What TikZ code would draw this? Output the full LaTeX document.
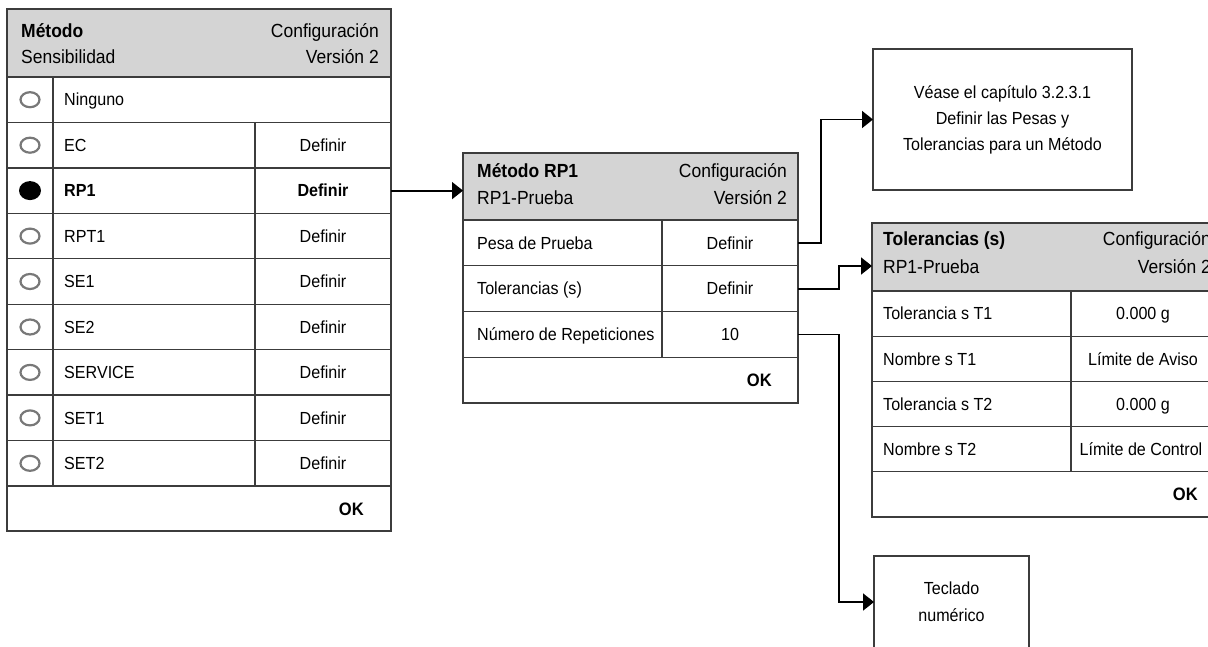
\documentclass[tikz,border=0pt]{standalone}
\usepackage{fontspec}
\setmainfont[FakeStretch=0.92]{Liberation Sans}
\usetikzlibrary{arrows.meta,shapes.geometric}
\definecolor{hdrgray}{RGB}{212,212,212}
\definecolor{linegray}{RGB}{60,60,60}
\definecolor{radiogray}{RGB}{120,120,120}
\tikzset{
	hdr/.style={draw=linegray,line width=1.3pt,fill=hdrgray,anchor=north west,
		inner sep=0pt,outer sep=0pt},
	rowbox/.style={draw=linegray,line width=1.3pt,anchor=west,
		inner sep=0pt,outer sep=0pt},
	inner/.style={draw=linegray,line width=1.2pt},
	cellt/.style={font=\fontsize{17.5}{20}\selectfont,inner sep=0pt,
		text height=12.5pt,text depth=0pt},
	celltb/.style={cellt,font=\bfseries\fontsize{17.5}{20}\selectfont},
	hdrt/.style={font=\fontsize{19}{22}\selectfont,inner sep=0pt},
	hdrtb/.style={hdrt,font=\bfseries\fontsize{19}{22}\selectfont},
	okt/.style={font=\bfseries\fontsize{18}{20}\selectfont,inner sep=0pt,
		text height=13pt,text depth=0pt,anchor=east},
	radio/.style={ellipse,draw=radiogray,line width=2.2pt,
		minimum width=19pt,minimum height=15pt,inner sep=0pt},
	radioon/.style={ellipse,fill=black,minimum width=22pt,minimum height=19pt,
		inner sep=0pt},
	infobox/.style={draw=linegray,line width=1.3pt,anchor=north west,
		align=center,inner sep=0pt,outer sep=0pt},
	conn/.style={draw=black,line width=1.8pt,
		-{Triangle[length=11pt,width=17pt]}}
}
\begin{document}
\begin{tikzpicture}[x=1pt,y=-1pt]
	\path[use as bounding box] (0,0) rectangle (1208,646);
	\clip (0,0) rectangle (1208,646);

	% Metodo / Sensibilidad
	\node[hdr,minimum width=384pt,minimum height=68pt] (hdrA) at (7,9) {};
	\node[hdrtb,anchor=base west] at (21,37) {Método};
	\node[hdrt,anchor=base west] at (21,63) {Sensibilidad};
	\node[hdrt,anchor=base east] at (379,37) {Configuración};
	\node[hdrt,anchor=base east] at (379,63) {Versión 2};
	\node[rowbox,minimum width=384pt,minimum height=45.44pt] (rA1) at (7,99.7) {};
	\node[rowbox,minimum width=384pt,minimum height=45.44pt] (rA2) at (7,145.2) {};
	\node[rowbox,minimum width=384pt,minimum height=45.44pt] (rA3) at (7,190.6) {};
	\node[rowbox,minimum width=384pt,minimum height=45.44pt] (rA4) at (7,236.1) {};
	\node[rowbox,minimum width=384pt,minimum height=45.44pt] (rA5) at (7,281.5) {};
	\node[rowbox,minimum width=384pt,minimum height=45.44pt] (rA6) at (7,327.0) {};
	\node[rowbox,minimum width=384pt,minimum height=45.44pt] (rA7) at (7,372.4) {};
	\node[rowbox,minimum width=384pt,minimum height=45.44pt] (rA8) at (7,417.9) {};
	\node[rowbox,minimum width=384pt,minimum height=45.44pt] (rA9) at (7,463.3) {};
	\node[rowbox,minimum width=384pt,minimum height=45pt] (okA) at (7,508.5) {};
	\draw[inner] (53,77) -- (53,486);
	\draw[inner] (255,122.4) -- (255,486);
	\node[radio] (radA1) at (30,99.7) {};
	\node[radio] (radA2) at (30,145.2) {};
	\node[radioon] (radA3) at (30,190.6) {};
	\node[radio] (radA4) at (30,236.1) {};
	\node[radio] (radA5) at (30,281.5) {};
	\node[radio] (radA6) at (30,327.0) {};
	\node[radio] (radA7) at (30,372.4) {};
	\node[radio] (radA8) at (30,417.9) {};
	\node[radio] (radA9) at (30,463.3) {};
	\node[cellt,anchor=west] (ninguno) at (64,99.7) {Ninguno};
	\node[cellt,anchor=west] (ec) at (64,145.2) {EC};
	\node[celltb,anchor=west] (rp1) at (64,190.6) {RP1};
	\node[cellt,anchor=west] (rpt1) at (64,236.1) {RPT1};
	\node[cellt,anchor=west] (se1) at (64,281.5) {SE1};
	\node[cellt,anchor=west] (se2) at (64,327.0) {SE2};
	\node[cellt,anchor=west] (service) at (64,372.4) {SERVICE};
	\node[cellt,anchor=west] (set1) at (64,417.9) {SET1};
	\node[cellt,anchor=west] (set2) at (64,463.3) {SET2};
	\node[cellt] (defA2) at (323,145.2) {Definir};
	\node[celltb] (defA3) at (323,190.6) {Definir};
	\node[cellt] (defA4) at (323,236.1) {Definir};
	\node[cellt] (defA5) at (323,281.5) {Definir};
	\node[cellt] (defA6) at (323,327.0) {Definir};
	\node[cellt] (defA7) at (323,372.4) {Definir};
	\node[cellt] (defA8) at (323,417.9) {Definir};
	\node[cellt] (defA9) at (323,463.3) {Definir};
	\node[okt] (okAt) at (364,508.5) {OK};

	% Metodo RP1
	\node[hdr,minimum width=335pt,minimum height=67pt] (hdrB) at (463,153) {};
	\node[hdrtb,anchor=base west] at (477,177) {Método RP1};
	\node[hdrt,anchor=base west] at (477,204) {RP1-Prueba};
	\node[hdrt,anchor=base east] at (787,177) {Configuración};
	\node[hdrt,anchor=base east] at (787,204) {Versión 2};
	\node[rowbox,minimum width=335pt,minimum height=45.75pt] (rB1) at (463,242.9) {};
	\node[rowbox,minimum width=335pt,minimum height=45.75pt] (rB2) at (463,288.6) {};
	\node[rowbox,minimum width=335pt,minimum height=45.75pt] (rB3) at (463,334.4) {};
	\node[rowbox,minimum width=335pt,minimum height=45.75pt] (okB) at (463,380.1) {};
	\draw[inner] (662,220) -- (662,357.25);
	\node[cellt,anchor=west] (pesa) at (477,242.9) {Pesa de Prueba};
	\node[cellt,anchor=west] (tolB) at (477,288.6) {Tolerancias (s)};
	\node[cellt,anchor=west] (numrep) at (477,334.4) {Número de Repeticiones};
	\node[cellt] (defB1) at (730,242.9) {Definir};
	\node[cellt] (defB2) at (730,288.6) {Definir};
	\node[cellt] (valB3) at (730,334.4) {10};
	\node[okt] (okBt) at (772,380.1) {OK};

	% Tolerancias (s)
	\node[hdr,minimum width=343pt,minimum height=68pt] (hdrC) at (872,223) {};
	\node[hdrtb,anchor=base west] at (883,245) {Tolerancias (s)};
	\node[hdrt,anchor=base west] at (883,273) {RP1-Prueba};
	\node[hdrt,anchor=base east] at (1211,245) {Configuración};
	\node[hdrt,anchor=base east] at (1211,273) {Versión 2};
	\node[rowbox,minimum width=343pt,minimum height=45.2pt] (rC1) at (872,313.6) {};
	\node[rowbox,minimum width=343pt,minimum height=45.2pt] (rC2) at (872,358.8) {};
	\node[rowbox,minimum width=343pt,minimum height=45.2pt] (rC3) at (872,404.0) {};
	\node[rowbox,minimum width=343pt,minimum height=45.2pt] (rC4) at (872,449.2) {};
	\node[rowbox,minimum width=343pt,minimum height=45.2pt] (okC) at (872,494.4) {};
	\draw[inner] (1071,291) -- (1071,471.8);
	\node[cellt,anchor=west] (tolT1) at (883,313.6) {Tolerancia s T1};
	\node[cellt,anchor=west] (nomT1) at (883,358.8) {Nombre s T1};
	\node[cellt,anchor=west] (tolT2) at (883,404.0) {Tolerancia s T2};
	\node[cellt,anchor=west] (nomT2) at (883,449.2) {Nombre s T2};
	\node[cellt] (valC1) at (1143,313.6) {0.000 g};
	\node[cellt] (valC2) at (1143,358.8) {Límite de Aviso};
	\node[cellt] (valC3) at (1143,404.0) {0.000 g};
	\node[cellt] (valC4) at (1141,449.2) {Límite de Control};
	\node[okt] (okCt) at (1198,494.4) {OK};

	% cajas de referencia
	\node[infobox,minimum width=259pt,minimum height=141pt,
		font=\fontsize{17.5}{26}\selectfont] (boxV) at (873,49)
		{Véase el capítulo 3.2.3.1\\Definir las Pesas y\\Tolerancias para un Método};
	\node[infobox,minimum width=155pt,minimum height=92pt,
		font=\fontsize{17.5}{27}\selectfont] (boxT) at (874,556)
		{Teclado\\numérico};

	% flechas
	\draw[conn] (rA3.east) -- (rA3.east -| hdrB.west);
	\draw[conn] (rB1.east) -- ++(23,0) |- (boxV.west);
	\draw[conn] (rB2.east) -- ++(41,0) |- ([yshift=-9pt]hdrC.west);
	\draw[conn] (rB3.east) -- ++(41,0) |- (boxT.west);
\end{tikzpicture}
\end{document}
